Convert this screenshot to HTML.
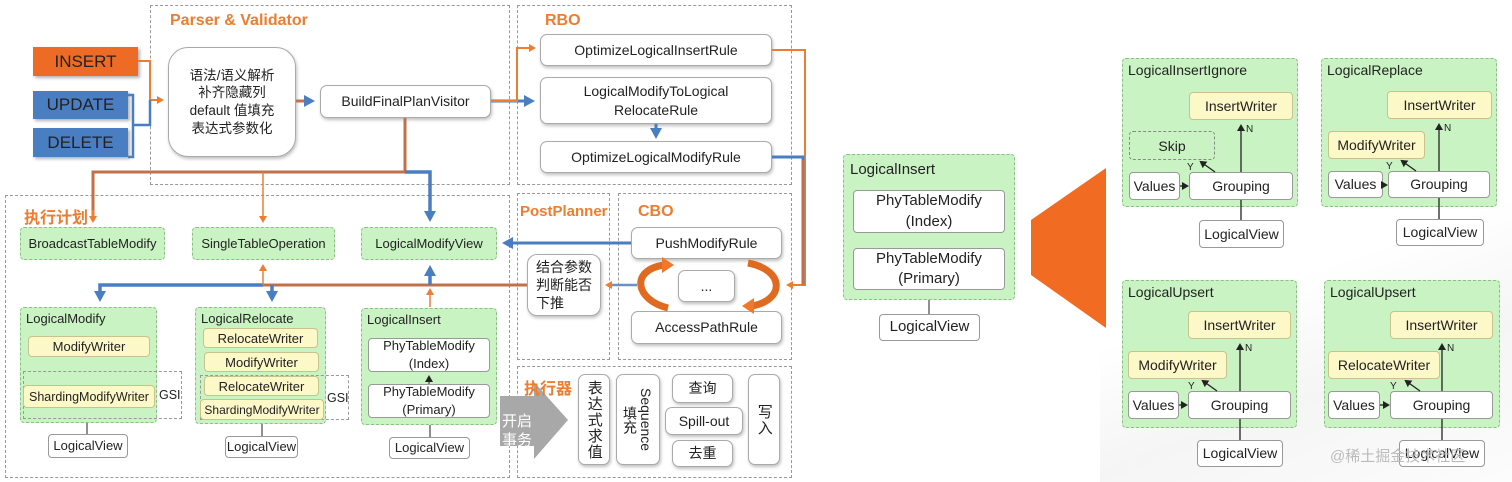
<!DOCTYPE html>
<html><head><meta charset="utf-8"><style>
body{margin:0;width:1512px;height:482px;position:relative;background:#fff;font-family:"Liberation Sans","Noto Sans CJK SC",sans-serif;overflow:hidden;color:#222}
div{position:absolute;box-sizing:border-box}
.dash{border:1.5px dashed #999}
.t{color:#ed7d31;font-weight:bold;font-size:16px}
.b{background:#fff;border:1px solid #aaa;border-radius:7px;display:flex;align-items:center;justify-content:center;text-align:center;font-size:14px;line-height:1.3;box-shadow:1px 2px 3px rgba(0,0,0,.25)}
.g{background:#c9f3c3;border:1px dashed #8cbf86;border-radius:4px;font-size:13px;padding:3px 5px}
.gb{background:#c9f3c3;border:1px dashed #8cbf86;border-radius:4px;display:flex;align-items:center;justify-content:center;font-size:13px}
.y{background:#fdf8c8;border:1px solid #c8c28c;border-radius:4px;display:flex;align-items:center;justify-content:center;font-size:13px}
.w{background:#fff;border:1px solid #999;border-radius:4px;display:flex;align-items:center;justify-content:center;text-align:center;font-size:13px;line-height:1.35}
.bigw{font-size:15px}
.r{font-size:14px!important}
.v{writing-mode:vertical-rl;font-size:15px;letter-spacing:1px}
svg{position:absolute;left:0;top:0}
</style></head><body>
<div style="left:1100px;top:0;width:412px;height:482px;background:linear-gradient(160deg,#fff 55%,#f5f5f5 75%,#fcfcfc)"></div>

<div class="dash" style="left:150px;top:5px;width:360px;height:180px"></div>
<div class="t" style="left:170px;top:12px">Parser &amp; Validator</div>
<div class="dash" style="left:517px;top:5px;width:275px;height:180px"></div>
<div class="t" style="left:545px;top:12px">RBO</div>
<div class="dash" style="left:5px;top:195px;width:505px;height:283px"></div>
<div class="t" style="left:24px;top:204px">执行计划</div>
<div class="dash" style="left:517px;top:193px;width:93px;height:167px"></div>
<div class="t" style="left:520px;top:203px;font-size:15px">PostPlanner</div>
<div class="dash" style="left:618px;top:193px;width:174px;height:167px"></div>
<div class="t" style="left:638px;top:203px">CBO</div>
<div class="dash" style="left:517px;top:366px;width:275px;height:112px"></div>

<svg width="1512" height="482"><polygon points="500,396 534,396 534,382 568,420 534,459 534,446 500,446" fill="#a8a8a8"/></svg>
<div class="t" style="left:524px;top:375px">执行器</div>

<div style="left:33px;top:47px;width:105px;height:29px;background:#ed6b24;font-size:17px;display:flex;align-items:center;justify-content:center;box-shadow:2px 2px 3px rgba(0,0,0,.3)">INSERT</div>
<div style="left:33px;top:91px;width:95px;height:28px;background:#4a7ec2;font-size:17px;display:flex;align-items:center;justify-content:center;box-shadow:2px 2px 3px rgba(0,0,0,.3)">UPDATE</div>
<div style="left:33px;top:128px;width:95px;height:29px;background:#4a7ec2;font-size:17px;display:flex;align-items:center;justify-content:center;box-shadow:2px 2px 3px rgba(0,0,0,.3)">DELETE</div>
<div class="b" style="left:168px;top:47px;width:128px;height:110px;border-radius:20px;font-size:13.5px">语法/语义解析<br>补齐隐藏列<br>default 值填充<br>表达式参数化</div>
<div class="b" style="left:320px;top:85px;width:171px;height:33px">BuildFinalPlanVisitor</div>

<div class="b" style="left:540px;top:34px;width:232px;height:32px">OptimizeLogicalInsertRule</div>
<div class="b" style="left:540px;top:77px;width:232px;height:47px">LogicalModifyToLogical<br>RelocateRule</div>
<div class="b" style="left:540px;top:141px;width:232px;height:32px">OptimizeLogicalModifyRule</div>

<div class="b" style="left:631px;top:227px;width:151px;height:32px">PushModifyRule</div>
<div class="b" style="left:678px;top:270px;width:57px;height:32px">...</div>
<div class="b" style="left:631px;top:311px;width:151px;height:33px">AccessPathRule</div>
<div class="b" style="left:527px;top:254px;width:74px;height:62px;justify-content:flex-start;text-align:left;padding-left:8px;border-radius:10px">结合参数<br>判断能否<br>下推</div>

<div class="gb" style="left:20px;top:227px;width:145px;height:33px">BroadcastTableModify</div>
<div class="gb" style="left:192px;top:227px;width:143px;height:33px">SingleTableOperation</div>
<div class="gb" style="left:361px;top:227px;width:136px;height:33px">LogicalModifyView</div>

<div class="g" style="left:20px;top:307px;width:137px;height:116px">LogicalModify</div>
<div class="y" style="left:28px;top:336px;width:122px;height:21px">ModifyWriter</div>
<div class="dash" style="left:23px;top:371px;width:159px;height:48px;border-width:1px"></div>
<div class="y" style="left:23px;top:385px;width:132px;height:23px;font-size:12.5px">ShardingModifyWriter</div>
<div style="left:159px;top:388px;font-size:12.5px">GSI</div>
<div class="w" style="left:48px;top:434px;width:80px;height:24px">LogicalView</div>

<div class="g" style="left:195px;top:307px;width:131px;height:117px">LogicalRelocate</div>
<div class="dash" style="left:200px;top:375px;width:149px;height:45px;border-width:1px"></div>
<div class="y" style="left:203px;top:328px;width:115px;height:20px">RelocateWriter</div>
<div class="y" style="left:204px;top:352px;width:115px;height:20px">ModifyWriter</div>
<div class="y" style="left:204px;top:376px;width:115px;height:20px">RelocateWriter</div>
<div class="y" style="left:200px;top:399px;width:124px;height:21px;font-size:12px">ShardingModifyWriter</div>
<div style="left:327px;top:391px;font-size:12.5px">GSI</div>
<div class="w" style="left:225px;top:436px;width:73px;height:22px">LogicalView</div>

<div class="g" style="left:361px;top:308px;width:136px;height:117px">LogicalInsert</div>
<div class="w" style="left:368px;top:338px;width:122px;height:34px">PhyTableModify<br>(Index)</div>
<div class="w" style="left:368px;top:384px;width:122px;height:34px">PhyTableModify<br>(Primary)</div>
<div class="w" style="left:389px;top:437px;width:81px;height:22px">LogicalView</div>

<svg width="1512" height="482">
<defs>
<marker id="ao" markerWidth="8" markerHeight="8" refX="5" refY="4" orient="auto" markerUnits="userSpaceOnUse"><path d="M0,0L7,4L0,8z" fill="#ed7d31"/></marker>
<marker id="ab" markerWidth="12" markerHeight="12" refX="8" refY="6" orient="auto" markerUnits="userSpaceOnUse"><path d="M0,0L11,6L0,12z" fill="#4a7ec2"/></marker>
<marker id="ak" markerWidth="8" markerHeight="8" refX="5" refY="4" orient="auto" markerUnits="userSpaceOnUse"><path d="M0,0L7,4L0,8z" fill="#222"/></marker>
</defs>
<g fill="none">
<path d="M138,61H150V100H162" stroke="#ed7d31" stroke-width="2" marker-end="url(#ao)"/>
<path d="M128,95H133V157H128M133,125H150V100" stroke="#4a7ec2" stroke-width="2.5"/>
<path d="M296,101H312" stroke="#c0704a" stroke-width="3" marker-end="url(#ab)"/>
<path d="M491,101H532" stroke="#4a7ec2" stroke-width="3" marker-end="url(#ab)"/>
<path d="M491,101H517V48H534" stroke="#ed7d31" stroke-width="2" marker-end="url(#ao)"/>
<path d="M405,118V172H93V221" stroke="#c0704a" stroke-width="3"/>
<path d="M93,210V221" stroke="#ed7d31" stroke-width="3" marker-end="url(#ao)"/>
<path d="M263,172V221" stroke="#ed7d31" stroke-width="1.5" marker-end="url(#ao)"/>
<path d="M405,172H430V219" stroke="#4a7ec2" stroke-width="3.5" marker-end="url(#ab)"/>
<path d="M656,124V136" stroke="#4a7ec2" stroke-width="3" marker-end="url(#ab)"/>
<path d="M772,50H805V285H788" stroke="#ed7d31" stroke-width="2" marker-end="url(#ao)"/>
<path d="M772,157H803V285" stroke="#4a7ec2" stroke-width="3"/>
<path d="M803,160V285" stroke="#c0704a" stroke-width="2.5"/>
<path d="M631,243H505" stroke="#4a7ec2" stroke-width="3" marker-end="url(#ab)"/>
<path d="M637,285H607" stroke="#6d8fc2" stroke-width="2.5" marker-end="url(#ao)"/>
<path d="M527,285H263" stroke="#c0704a" stroke-width="3"/>
<path d="M263,285H100V299" stroke="#4a7ec2" stroke-width="3.5" marker-end="url(#ab)"/>
<path d="M272,285V299" stroke="#4a7ec2" stroke-width="3.5" marker-end="url(#ab)"/>
<path d="M263,285V266" stroke="#ed7d31" stroke-width="1.5" marker-end="url(#ao)"/>
<path d="M430,285V268" stroke="#4a7ec2" stroke-width="3.5" marker-end="url(#ab)"/>
<path d="M430,307V290" stroke="#ed7d31" stroke-width="1.5" marker-end="url(#ao)"/>
<path d="M668,308C635,300 630,270 664,265" stroke="#e06a20" stroke-width="7"/>
<path d="M748,263C785,270 785,300 752,306" stroke="#e06a20" stroke-width="7"/>
</g>
<path d="M662,257L674,265L662,273z" fill="#f07828"/>
<path d="M754,298L742,306L754,314z" fill="#f07828"/>
<g stroke="#222" stroke-width="1" fill="none">
<path d="M87,423V434M262,424V436M430,425V437"/><path d="M429,384V377" marker-end="url(#ak)"/>
<path d="M929,248V240" marker-end="url(#ak)"/><path d="M929,300V314"/>
</g>
<polygon points="1031,220 1106,168 1106,328 1031,275" fill="#f26b22"/>
</svg>
<div style="left:502px;top:412px;color:#fff;font-size:15px;line-height:19px">开启<br>事务</div>
<div class="b v" style="left:578px;top:374px;width:32px;height:91px;align-items:center">表达式求值</div>
<div class="b" style="left:616px;top:374px;width:44px;height:91px;font-size:14px"><span style="writing-mode:vertical-rl;line-height:16px">Sequence<br>填充</span></div>
<div class="b" style="left:672px;top:374px;width:61px;height:29px">查询</div>
<div class="b" style="left:665px;top:407px;width:78px;height:28px">Spill-out</div>
<div class="b" style="left:672px;top:440px;width:61px;height:27px">去重</div>
<div class="b v" style="left:748px;top:374px;width:32px;height:91px">写入</div>

<div class="g bigw" style="left:843px;top:154px;width:172px;height:146px;padding:6px">LogicalInsert</div>
<div class="w bigw" style="left:853px;top:190px;width:152px;height:43px">PhyTableModify<br>(Index)</div>
<div class="w bigw" style="left:853px;top:248px;width:152px;height:42px">PhyTableModify<br>(Primary)</div>
<div class="w bigw" style="left:879px;top:314px;width:101px;height:27px">LogicalView</div>

<div class="g r" style="left:1122px;top:58px;width:176px;height:149px">LogicalInsertIgnore</div>
<div class="y r" style="left:1189px;top:92px;width:104px;height:28px">InsertWriter</div>
<div class="gb r" style="left:1129px;top:131px;width:86px;height:29px;border-color:#888">Skip</div>
<div class="w r" style="left:1129px;top:172px;width:51px;height:28px">Values</div>
<div class="w r" style="left:1189px;top:172px;width:104px;height:28px">Grouping</div>
<div class="w r" style="left:1199px;top:220px;width:85px;height:28px">LogicalView</div>

<div class="g r" style="left:1321px;top:58px;width:176px;height:149px">LogicalReplace</div>
<div class="y r" style="left:1387px;top:91px;width:105px;height:28px">InsertWriter</div>
<div class="y r" style="left:1328px;top:131px;width:97px;height:28px">ModifyWriter</div>
<div class="w r" style="left:1328px;top:171px;width:55px;height:27px">Values</div>
<div class="w r" style="left:1388px;top:171px;width:102px;height:27px">Grouping</div>
<div class="w r" style="left:1396px;top:219px;width:88px;height:27px">LogicalView</div>

<div class="g r" style="left:1122px;top:280px;width:175px;height:148px">LogicalUpsert</div>
<div class="y r" style="left:1188px;top:311px;width:103px;height:28px">InsertWriter</div>
<div class="y r" style="left:1128px;top:351px;width:99px;height:28px">ModifyWriter</div>
<div class="w r" style="left:1128px;top:391px;width:51px;height:28px">Values</div>
<div class="w r" style="left:1188px;top:391px;width:103px;height:28px">Grouping</div>
<div class="w r" style="left:1197px;top:440px;width:86px;height:27px">LogicalView</div>

<div class="g r" style="left:1324px;top:280px;width:176px;height:148px">LogicalUpsert</div>
<div class="y r" style="left:1390px;top:311px;width:103px;height:28px">InsertWriter</div>
<div class="y r" style="left:1328px;top:351px;width:112px;height:28px">RelocateWriter</div>
<div class="w r" style="left:1328px;top:391px;width:52px;height:28px">Values</div>
<div class="w r" style="left:1390px;top:391px;width:103px;height:28px">Grouping</div>
<div class="w r" style="left:1399px;top:440px;width:86px;height:27px">LogicalView</div>

<svg width="1512" height="482" style="pointer-events:none">
<defs><marker id="ak2" markerWidth="8" markerHeight="8" refX="5" refY="4" orient="auto" markerUnits="userSpaceOnUse"><path d="M0,0L7,4L0,8z" fill="#222"/></marker></defs>
<g stroke="#222" stroke-width="1.3" fill="none" marker-end="url(#ak2)">
<path d="M1241,172V126"/><path d="M1180,186H1187"/><path d="M1215,172L1201,162"/>
<path d="M1439,171V125"/><path d="M1383,185H1386"/><path d="M1416,171L1402,161"/>
<path d="M1240,391V345"/><path d="M1179,405H1186"/><path d="M1217,391L1203,381"/>
<path d="M1442,391V345"/><path d="M1380,405H1388"/><path d="M1420,391L1406,381"/>
</g>
<g stroke="#222" stroke-width="1.3"><path d="M1241,200V220M1439,198V219M1240,419V440M1442,419V440"/></g>
<g font-size="10" font-family="Liberation Sans" fill="#222">
<text x="1246" y="132">N</text><text x="1187" y="170">Y</text>
<text x="1444" y="131">N</text><text x="1386" y="169">Y</text>
<text x="1245" y="351">N</text><text x="1188" y="389">Y</text>
<text x="1447" y="351">N</text><text x="1390" y="389">Y</text>
</g>
<text x="1330" y="461" font-size="15" fill="#bbb" font-family="Liberation Sans,Noto Sans CJK SC,sans-serif">@稀土掘金技术社区</text>
</svg>
</body></html>
